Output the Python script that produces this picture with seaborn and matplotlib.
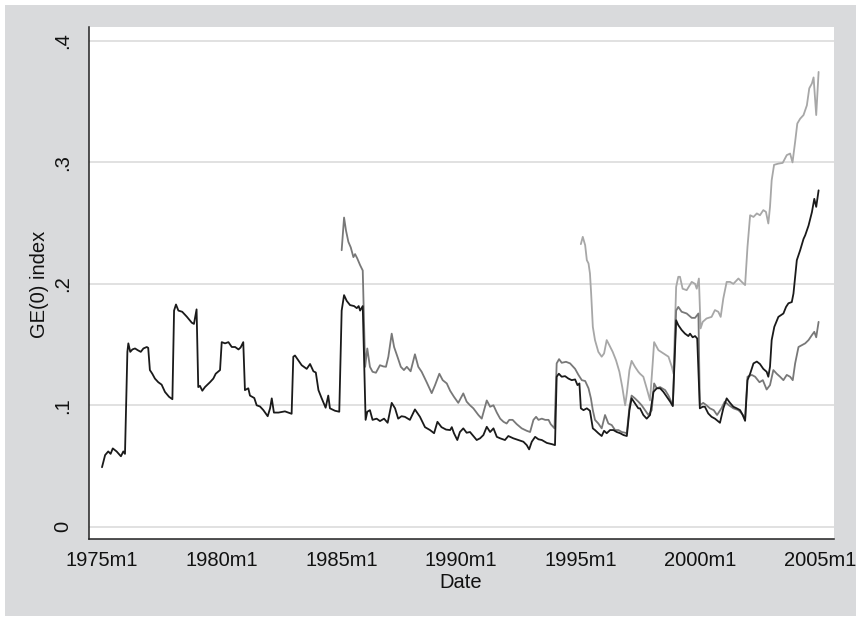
import matplotlib
matplotlib.use("Agg")
import matplotlib.pyplot as plt
from matplotlib.patches import Rectangle
import seaborn as sns
import pandas as pd

# ---------------- data (decimal year, GE(0) index) ----------------
black_dates = [1975.00, 1975.13, 1975.26, 1975.36, 1975.45, 1975.61, 1975.79, 1975.89, 1975.96,
               1976.06, 1976.10, 1976.18, 1976.27, 1976.38, 1976.49, 1976.62, 1976.73, 1976.87, 1976.93,
               1977.00, 1977.10, 1977.21, 1977.35, 1977.49, 1977.63, 1977.80, 1977.94,
               1978.01, 1978.09, 1978.19, 1978.35, 1978.54, 1978.75, 1978.84, 1978.95,
               1979.02, 1979.09, 1979.19, 1979.30, 1979.51, 1979.65, 1979.75, 1979.93,
               1980.00, 1980.14, 1980.28, 1980.42, 1980.56, 1980.70, 1980.79, 1980.90,
               1980.97, 1981.11, 1981.18, 1981.36, 1981.46, 1981.60, 1981.74, 1981.92,
               1982.02, 1982.09, 1982.18, 1982.37, 1982.64, 1982.92,
               1982.99, 1983.06, 1983.20, 1983.34, 1983.55, 1983.69, 1983.83, 1983.93,
               1984.04, 1984.17, 1984.34, 1984.45, 1984.52, 1984.73, 1984.91,
               1985.01, 1985.11, 1985.22, 1985.36, 1985.53, 1985.64, 1985.72, 1985.78, 1985.89,
               1986.01, 1986.08, 1986.19, 1986.30, 1986.47, 1986.61, 1986.78, 1986.93,
               1987.10, 1987.24, 1987.37, 1987.51, 1987.65, 1987.86,
               1988.07, 1988.28, 1988.49, 1988.70, 1988.87,
               1989.01, 1989.18, 1989.37, 1989.54, 1989.61, 1989.70, 1989.84, 1989.95,
               1990.09, 1990.23, 1990.37, 1990.51, 1990.65, 1990.79, 1990.93,
               1991.07, 1991.21, 1991.35, 1991.49, 1991.63, 1991.83, 1991.97,
               1992.18, 1992.39, 1992.60, 1992.74, 1992.84, 1992.95,
               1993.09, 1993.23, 1993.37, 1993.58, 1993.79, 1993.92,
               1993.99, 1994.08, 1994.20, 1994.34, 1994.48, 1994.62, 1994.76, 1994.86, 1994.94,
               1995.00, 1995.11, 1995.25, 1995.38, 1995.50, 1995.59, 1995.73, 1995.87, 1995.97,
               1996.08, 1996.22, 1996.36, 1996.50, 1996.64, 1996.78, 1996.92,
               1997.03, 1997.12, 1997.26, 1997.40, 1997.47, 1997.61, 1997.75, 1997.89,
               1998.03, 1998.17, 1998.31, 1998.45, 1998.59, 1998.73, 1998.84,
               1998.98, 1999.07, 1999.21, 1999.35, 1999.49, 1999.56, 1999.67, 1999.77, 1999.86,
               1999.97, 2000.09, 2000.18, 2000.32, 2000.46, 2000.60, 2000.81, 2000.95,
               2001.09, 2001.23, 2001.37, 2001.51, 2001.65, 2001.76, 2001.86,
               2001.96, 2002.07, 2002.21, 2002.35, 2002.48, 2002.62, 2002.76, 2002.83, 2002.90,
               2002.97, 2003.08, 2003.25, 2003.46, 2003.57, 2003.67, 2003.81, 2003.88, 2003.95,
               2004.02, 2004.16, 2004.30, 2004.37, 2004.51, 2004.65, 2004.75, 2004.83, 2004.93]
black_values = [0.049, 0.059, 0.062, 0.060, 0.0645, 0.062, 0.058, 0.062, 0.060,
                0.144, 0.151, 0.144, 0.146, 0.1468, 0.1454, 0.144, 0.1468, 0.148, 0.1473,
                0.129, 0.126, 0.122, 0.119, 0.117, 0.111, 0.107, 0.105,
                0.178, 0.183, 0.178, 0.177, 0.173, 0.168, 0.167, 0.179,
                0.115, 0.116, 0.112, 0.115, 0.119, 0.122, 0.126, 0.129,
                0.152, 0.151, 0.152, 0.148, 0.148, 0.146, 0.1476, 0.152,
                0.1125, 0.114, 0.108, 0.106, 0.100, 0.099, 0.096, 0.091,
                0.0975, 0.1057, 0.094, 0.094, 0.0950, 0.093,
                0.140, 0.141, 0.137, 0.133, 0.130, 0.134, 0.128, 0.127,
                0.1125, 0.106, 0.098, 0.108, 0.0975, 0.0955, 0.0947,
                0.178, 0.1907, 0.186, 0.1825, 0.1817, 0.180, 0.1817, 0.178, 0.1817,
                0.088, 0.0947, 0.096, 0.088, 0.089, 0.087, 0.089, 0.0856,
                0.102, 0.0975, 0.089, 0.091, 0.0905, 0.088,
                0.0966, 0.0905, 0.082, 0.0796, 0.077,
                0.0864, 0.082, 0.080, 0.0796, 0.082, 0.077, 0.0714, 0.078,
                0.081, 0.0774, 0.078, 0.0747, 0.0714, 0.0728, 0.0755,
                0.0823, 0.078, 0.081, 0.074, 0.0728, 0.0714, 0.0747,
                0.0728, 0.0714, 0.070, 0.0672, 0.0637, 0.070,
                0.074, 0.072, 0.0714, 0.069, 0.068, 0.0672,
                0.1235, 0.126, 0.1235, 0.124, 0.122, 0.1207, 0.1213, 0.1166, 0.118,
                0.0975, 0.096, 0.0975, 0.0955, 0.081, 0.0796, 0.077, 0.0747, 0.079,
                0.077, 0.0796, 0.0796, 0.078, 0.077, 0.0755, 0.0747,
                0.096, 0.1057, 0.1016, 0.0975, 0.0975, 0.092, 0.089, 0.092,
                0.111, 0.114, 0.114, 0.111, 0.107, 0.103, 0.0993,
                0.170, 0.166, 0.162, 0.159, 0.157, 0.159, 0.156, 0.157, 0.155,
                0.0975, 0.0988, 0.0988, 0.0933, 0.0905, 0.089, 0.0856, 0.0975,
                0.1057, 0.102, 0.0988, 0.0975, 0.096, 0.092, 0.0872,
                0.1207, 0.126, 0.1345, 0.136, 0.134, 0.130, 0.1276, 0.1235, 0.1317,
                0.1537, 0.1646, 0.1728, 0.1756, 0.181, 0.184, 0.185, 0.192, 0.2058,
                0.2195, 0.2277, 0.237, 0.240, 0.248, 0.259, 0.270, 0.2634, 0.277]

mid_dates = [1985.01, 1985.11, 1985.19, 1985.29, 1985.39, 1985.50, 1985.57, 1985.66, 1985.78, 1985.89,
             1985.99, 1986.08, 1986.19, 1986.30, 1986.44, 1986.61, 1986.75, 1986.86, 1986.96,
             1987.10, 1987.20, 1987.34, 1987.48, 1987.61, 1987.73, 1987.89,
             1988.07, 1988.21, 1988.35, 1988.56, 1988.77, 1988.91,
             1989.09, 1989.23, 1989.40, 1989.54, 1989.70, 1989.88,
             1990.09, 1990.23, 1990.37, 1990.51, 1990.72, 1990.86, 1990.96,
             1991.07, 1991.21, 1991.35, 1991.49, 1991.63, 1991.77, 1991.90,
             1992.01, 1992.15, 1992.32, 1992.53, 1992.74, 1992.88,
             1993.02, 1993.13, 1993.23, 1993.37, 1993.51, 1993.65, 1993.74, 1993.90,
             1993.99, 1994.09, 1994.20, 1994.38, 1994.55, 1994.76, 1994.90,
             1995.04, 1995.18, 1995.32, 1995.42, 1995.50, 1995.59, 1995.73, 1995.87,
             1996.01, 1996.15, 1996.29, 1996.43, 1996.57, 1996.71, 1996.85, 1996.92,
             1997.03, 1997.12, 1997.26, 1997.40, 1997.54, 1997.68, 1997.82, 1997.96,
             1998.06, 1998.17, 1998.31, 1998.52, 1998.66, 1998.84,
             1998.98, 1999.07, 1999.21, 1999.42, 1999.63, 1999.77, 1999.91,
             1999.97, 2000.11, 2000.25, 2000.39, 2000.55, 2000.69, 2000.87,
             2001.01, 2001.19, 2001.37, 2001.58, 2001.72, 2001.86,
             2001.96, 2002.14, 2002.28, 2002.46, 2002.60, 2002.76, 2002.90,
             2003.04, 2003.18, 2003.32, 2003.46, 2003.60, 2003.74, 2003.85,
             2003.95, 2004.09, 2004.23, 2004.37, 2004.51, 2004.65, 2004.75, 2004.83, 2004.93]
mid_values = [0.2277, 0.2546, 0.244, 0.2346, 0.230, 0.222, 0.2245, 0.221, 0.2154, 0.211,
              0.1317, 0.1468, 0.1317, 0.1276, 0.1268, 0.133, 0.132, 0.1317, 0.140,
              0.159, 0.148, 0.140, 0.1317, 0.129, 0.1317, 0.128,
              0.142, 0.1317, 0.1276, 0.119, 0.110, 0.1166,
              0.126, 0.1207, 0.118, 0.112, 0.107, 0.102,
              0.1098, 0.103, 0.100, 0.0975, 0.092, 0.089, 0.096,
              0.104, 0.0988, 0.100, 0.094, 0.089, 0.0864, 0.085,
              0.088, 0.088, 0.0845, 0.081, 0.079, 0.078,
              0.088, 0.0905, 0.088, 0.089, 0.088, 0.088, 0.0845, 0.081,
              0.1345, 0.138, 0.135, 0.1358, 0.1345, 0.130, 0.125,
              0.1207, 0.120, 0.114, 0.1057, 0.096, 0.088, 0.085, 0.081,
              0.092, 0.085, 0.0837, 0.0796, 0.0796, 0.078, 0.0774, 0.077,
              0.0988, 0.108, 0.1057, 0.103, 0.100, 0.096, 0.092, 0.096,
              0.118, 0.114, 0.115, 0.1125, 0.108, 0.100,
              0.178, 0.181, 0.177, 0.1756, 0.172, 0.172, 0.1756,
              0.100, 0.102, 0.100, 0.0975, 0.096, 0.092, 0.0975,
              0.103, 0.100, 0.0975, 0.096, 0.0933, 0.089,
              0.1235, 0.125, 0.1235, 0.119, 0.1207, 0.113, 0.1166,
              0.129, 0.126, 0.1235, 0.1207, 0.125, 0.1235, 0.1207,
              0.1345, 0.148, 0.1495, 0.151, 0.1537, 0.1578, 0.1605, 0.156, 0.1687]

light_dates = [1995.00, 1995.08, 1995.18, 1995.25, 1995.32, 1995.38, 1995.43, 1995.50, 1995.59,
               1995.73, 1995.87, 1995.97, 1996.08, 1996.19, 1996.33, 1996.47, 1996.61, 1996.73,
               1996.85, 1996.92, 1997.03, 1997.12, 1997.26, 1997.40, 1997.47, 1997.61, 1997.75,
               1997.89, 1998.00, 1998.06, 1998.24, 1998.45, 1998.66, 1998.80, 1998.87,
               1998.98, 1999.07, 1999.14, 1999.25, 1999.42, 1999.63, 1999.77, 1999.84, 1999.93,
               2000.00, 2000.09, 2000.25, 2000.46, 2000.60, 2000.74, 2000.84, 2000.95,
               2001.09, 2001.23, 2001.37, 2001.58, 2001.72, 2001.86,
               2001.96, 2002.07, 2002.21, 2002.35, 2002.48, 2002.62, 2002.73, 2002.83, 2002.90,
               2002.97, 2003.07, 2003.25, 2003.43, 2003.60, 2003.74, 2003.84, 2003.95,
               2004.04, 2004.16, 2004.30, 2004.44, 2004.54, 2004.65, 2004.72, 2004.83, 2004.93]
light_values = [0.2327, 0.2387, 0.2318, 0.2195, 0.2168, 0.2086, 0.192, 0.1646, 0.1537,
                0.144, 0.140, 0.1427, 0.1537, 0.1495, 0.144, 0.137, 0.1276, 0.115,
                0.100, 0.1098, 0.129, 0.1366, 0.1317, 0.1276, 0.126, 0.1235, 0.114,
                0.104, 0.1345, 0.152, 0.1454, 0.1427, 0.140, 0.1317, 0.126,
                0.1975, 0.2058, 0.2058, 0.196, 0.1948, 0.2016, 0.200, 0.196, 0.2044,
                0.1633, 0.1687, 0.1715, 0.1728, 0.1784, 0.177, 0.1728, 0.188,
                0.2016, 0.2016, 0.200, 0.2044, 0.2016, 0.199,
                0.2305, 0.2565, 0.2551, 0.258, 0.2565, 0.2607, 0.2593, 0.2497, 0.2634,
                0.2853, 0.298, 0.299, 0.2996, 0.306, 0.3073, 0.300, 0.317,
                0.332, 0.336, 0.339, 0.347, 0.361, 0.365, 0.370, 0.339, 0.3745]

x_tick_years = [1975, 1980, 1985, 1990, 1995, 2000, 2005]
x_tick_labels = ["1975m1", "1980m1", "1985m1", "1990m1", "1995m1", "2000m1", "2005m1"]
y_ticks = [0, 0.1, 0.2, 0.3, 0.4]
y_tick_labels = ["0", ".1", ".2", ".3", ".4"]

# ---------------- styling ----------------
sns.set_style("white")
plt.rcParams['font.family'] = ['Liberation Sans', 'DejaVu Sans']

W, H = 862, 621
fig = plt.figure(figsize=(W / 100, H / 100), dpi=100, facecolor="white")
# Stata-like gray outer region (behind the axes)
bg = Rectangle((5 / W, 1 - 616 / H), 851 / W, 611 / H,
               transform=fig.transFigure, facecolor="#d9dadc",
               edgecolor="none", zorder=-10)
fig.patches.append(bg)

left, right, top, bottom = 89, 834, 27, 539
ax = fig.add_axes([left / W, 1 - bottom / H, (right - left) / W, (bottom - top) / H])
ax.set_zorder(1)
ax.set_facecolor("white")

frames = [
    (pd.DataFrame({"date": light_dates, "value": light_values}), "#a7a7a7"),
    (pd.DataFrame({"date": mid_dates, "value": mid_values}), "#787878"),
    (pd.DataFrame({"date": black_dates, "value": black_values}), "#1a1a1a"),
]
for df, col in frames:
    sns.lineplot(data=df, x="date", y="value", color=col, linewidth=1.3,
                 estimator=None, ax=ax)

ax.set_xlim(1974.457, 2005.573)
ax.set_ylim(-0.0101, 0.4115)

ax.set_yticks(y_ticks)
ax.set_yticklabels(y_tick_labels)
ax.set_xticks(x_tick_years)
ax.set_xticklabels(x_tick_labels)

ax.yaxis.grid(True, color="#dcdcdc", linewidth=1.2)
ax.xaxis.grid(False)
ax.set_axisbelow(True)

for s in ["top", "right"]:
    ax.spines[s].set_visible(False)
for s in ["left", "bottom"]:
    ax.spines[s].set_color("#222222")
    ax.spines[s].set_linewidth(1.1)

ax.tick_params(axis="both", which="major", direction="out", length=5.8, width=1.0,
               color="#222222", labelsize=14.5, labelcolor="#111111")
ax.tick_params(axis="x", pad=3)
ax.tick_params(axis="y", pad=13)
for lab in ax.get_yticklabels():
    lab.set_rotation(90)
    lab.set_ha("center")
    lab.set_va("center")

ax.set_xlabel("Date", fontsize=14.5, color="#111111")
ax.set_ylabel("GE(0) index", fontsize=14.5, color="#111111")
ax.xaxis.set_label_coords((461 - left) / (right - left), (bottom - 583) / (bottom - top))
ax.xaxis.label.set_va("center")
ax.yaxis.set_label_coords((40 - left) / (right - left), (bottom - 284) / (bottom - top))
ax.yaxis.label.set_va("center")

fig.savefig("out.png", dpi=100, facecolor="white")
